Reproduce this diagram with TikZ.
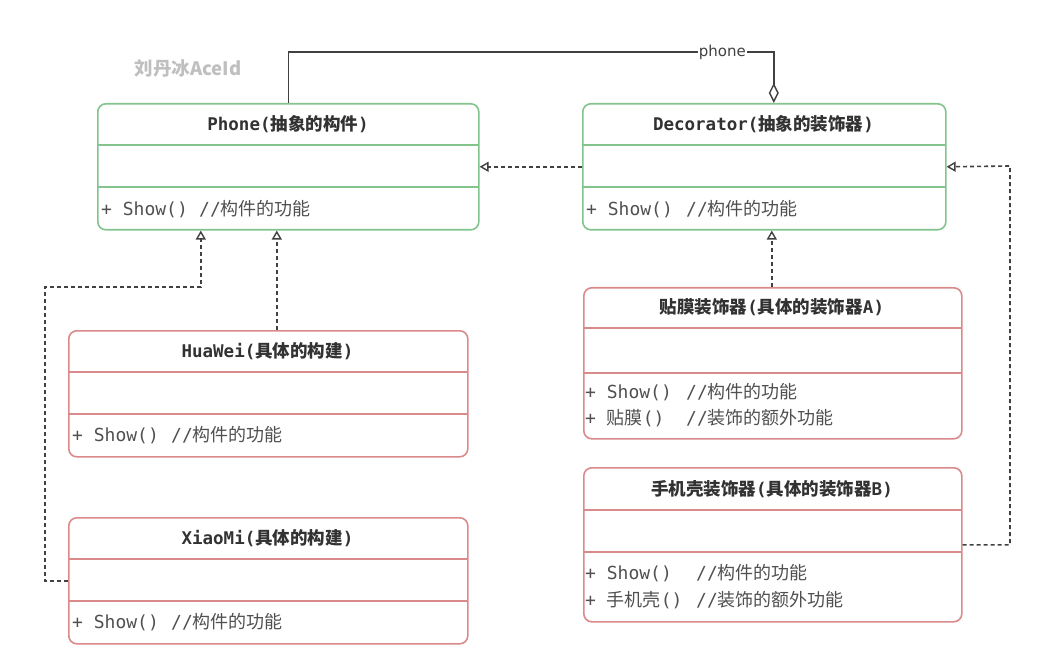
\documentclass[tikz,border=0pt]{standalone}
\usepackage{fontspec}
\setmainfont{DejaVu Sans}
\setmonofont{DejaVu Sans Mono}
\newfontfamily\cjk{Noto Sans CJK SC}
\newcommand{\zh}[1]{{\cjk #1}}
\usetikzlibrary{arrows.meta}
\definecolor{gbd}{RGB}{130,196,140}
\definecolor{rbd}{RGB}{218,138,138}
\definecolor{txt}{RGB}{50,50,50}
\definecolor{btxt}{RGB}{80,80,80}
\definecolor{cn}{RGB}{65,65,65}
\tikzset{
  cls/.style={draw=#1, line width=1.6pt, rounded corners=8pt, anchor=north west, inner sep=0pt, fill=white},
  dv/.style={draw=#1, line width=1.6pt},
  ttl/.style={inner sep=0pt, text=txt, font=\ttfamily\bfseries\fontsize{17.5}{21}\selectfont},
  bdy/.style={inner sep=0pt, anchor=west, text=btxt, font=\ttfamily\fontsize{18}{21}\selectfont},
  conn/.style={draw=cn, line width=1.6pt},
  dconn/.style={conn, dash pattern=on 4pt off 3pt, -{Triangle[open,length=9pt,width=10pt,line width=1.4pt]}},
}
\begin{document}
\begin{tikzpicture}[x=1pt,y=-1pt]
\useasboundingbox (0,0) rectangle (1044,660);
\fill[white] (0,0) rectangle (1044,660);

% watermark
\node[inner sep=0pt, text=black!25, font=\cjk\bfseries\fontsize{18.5}{22}\selectfont] (wm) at (188,68) {刘丹冰AceId};

% boxes
\node[cls=gbd, minimum width=381pt, minimum height=126pt] (phone) at (97,103) {};
\draw[dv=gbd] (97,145) -- (478,145) (97,187) -- (478,187);
\node[cls=gbd, minimum width=363pt, minimum height=126pt] (deco) at (582,103) {};
\draw[dv=gbd] (582,145) -- (945,145) (582,187) -- (945,187);
\node[cls=rbd, minimum width=399pt, minimum height=126pt] (huawei) at (68,330) {};
\draw[dv=rbd] (68,372) -- (467,372) (68,414) -- (467,414);
\node[cls=rbd, minimum width=399pt, minimum height=126pt] (xiaomi) at (68,517) {};
\draw[dv=rbd] (68,559) -- (467,559) (68,601) -- (467,601);
\node[cls=rbd, minimum width=378pt, minimum height=151pt] (da) at (583,287) {};
\draw[dv=rbd] (583,328) -- (961,328) (583,373) -- (961,373);
\node[cls=rbd, minimum width=378pt, minimum height=154pt] (db) at (583,467) {};
\draw[dv=rbd] (583,510) -- (961,510) (583,552) -- (961,552);

% titles
\node[ttl] (phonet) at (288,124) {Phone(\zh{抽象的构件})};
\node[ttl] (decot) at (763.5,124) {Decorator(\zh{抽象的装饰器})};
\node[ttl] (huaweit) at (267.5,351) {HuaWei(\zh{具体的构建})};
\node[ttl] (xiaomit) at (267.5,538) {XiaoMi(\zh{具体的构建})};
\node[ttl] (dat) at (772,307) {\zh{贴膜装饰器}(\zh{具体的装饰器}A)};
\node[ttl] (dbt) at (772,489) {\zh{手机壳装饰器}(\zh{具体的装饰器}B)};

% bodies
\node[bdy] (phoneb) at (101,209) {\makebox[98pt][l]{+ Show()}//\zh{构件的功能}};
\node[bdy] (decob) at (586,209) {\makebox[100pt][l]{+ Show()}//\zh{构件的功能}};
\node[bdy] (huaweib) at (72,435) {\makebox[99pt][l]{+ Show()}//\zh{构件的功能}};
\node[bdy] (xiaomib) at (72,622) {\makebox[99pt][l]{+ Show()}//\zh{构件的功能}};
\node[bdy] (da1) at (585,392) {\makebox[101pt][l]{+ Show()}//\zh{构件的功能}};
\node[bdy] (da2) at (585,418) {\makebox[101pt][l]{+ \zh{贴膜}()}//\zh{装饰的额外功能}};
\node[bdy] (db1) at (585,573) {\makebox[111pt][l]{+ Show()}//\zh{构件的功能}};
\node[bdy] (db2) at (585,600) {\makebox[111pt][l]{+ \zh{手机壳}()}//\zh{装饰的额外功能}};

% aggregation
\draw[conn, -{Diamond[open,length=20pt,width=10pt,line width=1.4pt]}]
  (phone.north) -- ++(0,-51) -| node[pos=0.447, fill=white, inner sep=1pt, text=cn, font=\fontsize{15}{17}\selectfont] (plbl) {phone} ([xshift=9.5pt]deco.north);

% realizations / inheritance
\draw[dconn] (deco.west) -- (phone.east);
\draw[dconn] ([xshift=8.5pt]huawei.north) -- ([xshift=-11.5pt]phone.south);
\coordinate (xm1) at (45,287);
\draw[dconn] (xiaomi.west) -| (xm1) -| ([xshift=-87.5pt]phone.south);
\draw[dconn] ([xshift=-1pt]da.north) -- ([xshift=-1pt]da.north |- deco.south);
\coordinate (b1) at (1010,166);
\draw[dconn] (db.east) -| (b1) -- (deco.east);
\end{tikzpicture}
\end{document}
